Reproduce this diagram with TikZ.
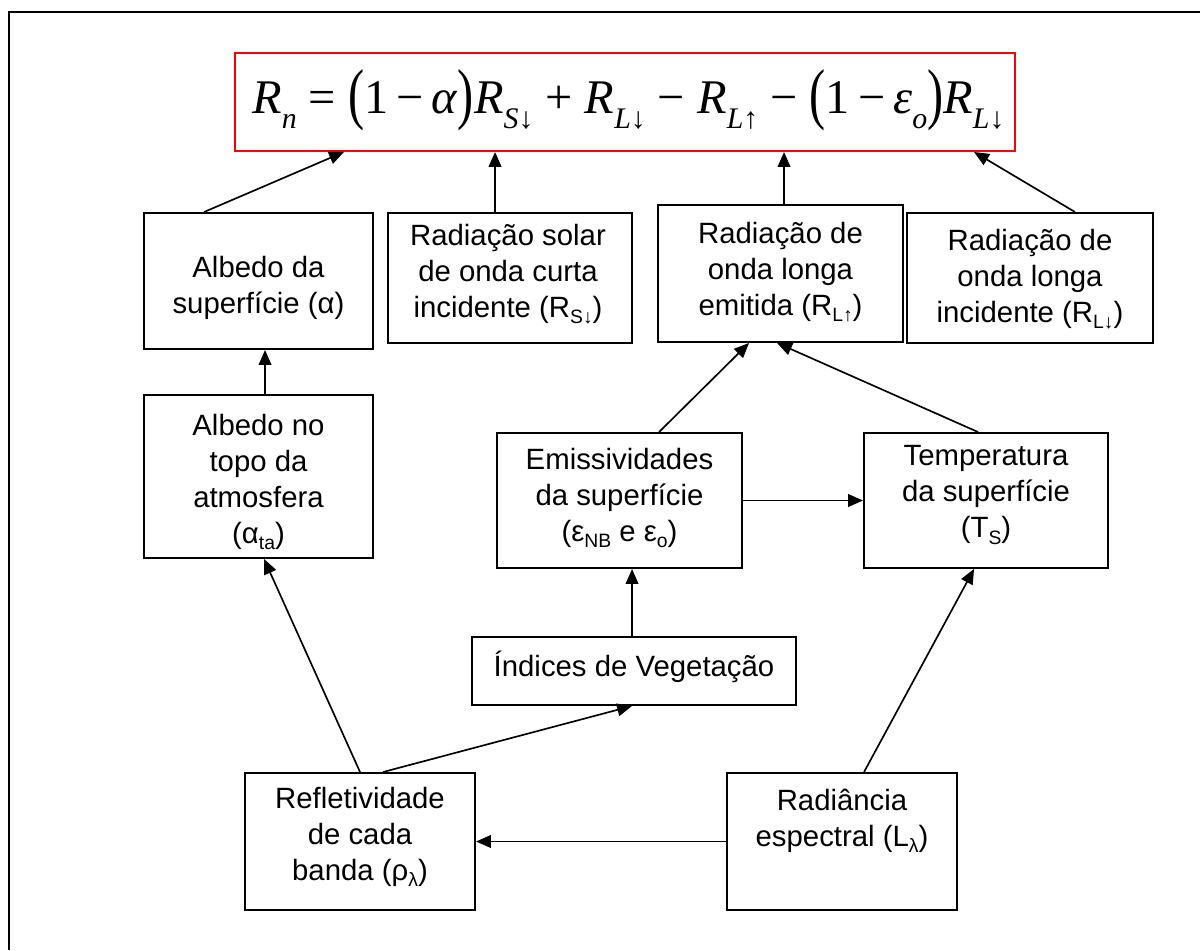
\documentclass[tikz,border=0pt]{standalone}
\usepackage{fontspec}
\setmainfont{Liberation Sans}
\newfontfamily\eqfont{Liberation Serif}
\usetikzlibrary{arrows.meta,calc}
\newcommand\esub[1]{\raisebox{-0.32em}{\fontsize{17}{17}\selectfont\textit{#1}}}
\newcommand\lpar{\raisebox{-0.07em}{\scalebox{1}[1.4]{(}}}
\newcommand\rpar{\raisebox{-0.07em}{\scalebox{1}[1.4]{)}}}
\newcommand\tsub[1]{\raisebox{-0.22em}{\fontsize{11}{11}\selectfont #1}}
\tikzset{
  bx/.style={draw=black, line width=1.1pt, inner sep=0pt},
  txt/.style={align=center, inner sep=0pt, font=\fontsize{16.7}{20.5}\selectfont},
  arr/.style={line width=0.95pt, -{Triangle[length=8.5pt,width=7.2pt]}},
}
\begin{document}
\begin{tikzpicture}[x=0.02cm,y=-0.02cm]
\useasboundingbox (0,0) rectangle (1200,950);
% outer frame
\draw[line width=1.6pt] (9,950) -- (9,12) -- (1200,12);
% equation
\node[draw=red, line width=1.1pt, minimum width={780*0.02cm}, minimum height={98*0.02cm}, inner sep=0pt] (eq) at (625,102) {};
\node[anchor=base west, inner sep=0pt] (eqt) at (252,113) {\eqfont\fontsize{27.5}{30}\selectfont
 \textit{R}\esub{n} = \lpar1\,−\,\textit{α}\rpar\textit{R}\esub{S↓} + \textit{R}\esub{L↓} − \textit{R}\esub{L↑} − \lpar1\,−\,\textit{ε}\esub{o}\rpar\textit{R}\esub{L↓}};
% boxes
\node[bx, minimum width={229*0.02cm}, minimum height={136*0.02cm}] (alb) at (258.5,281) {};
\node[bx, minimum width={244*0.02cm}, minimum height={130*0.02cm}] (solar) at (510,278) {};
\node[bx, minimum width={245*0.02cm}, minimum height={137*0.02cm}] (emit) at (780.5,273.5) {};
\node[bx, minimum width={246*0.02cm}, minimum height={130*0.02cm}] (incid) at (1030,278) {};
\node[bx, minimum width={229*0.02cm}, minimum height={163*0.02cm}] (topo) at (258.5,476.5) {};
\node[bx, minimum width={245*0.02cm}, minimum height={135*0.02cm}] (emiss) at (619.5,500.5) {};
\node[bx, minimum width={244*0.02cm}, minimum height={135*0.02cm}] (temp) at (986,500.5) {};
\node[bx, minimum width={324*0.02cm}, minimum height={68*0.02cm}] (indices) at (634,671) {};
\node[bx, minimum width={230*0.02cm}, minimum height={137*0.02cm}] (refl) at (360,841.5) {};
\node[bx, minimum width={230*0.02cm}, minimum height={137*0.02cm}] (radi) at (842,841.5) {};
% texts
\node[txt] (albt) at (258.5,288) {Albedo da\\superfície (α)};
\node[txt] (solart) at (508,274) {Radiação solar\\de onda curta\\incidente (R\tsub{S↓})};
\node[txt] (emitt) at (780.5,272) {Radiação de\\onda longa\\emitida (R\tsub{L↑})};
\node[txt] (incidt) at (1030,279) {Radiação de\\onda longa\\incidente (R\tsub{L↓})};
\node[txt] (topot) at (258.5,482) {Albedo no\\topo da\\atmosfera\\(α\tsub{ta})};
\node[txt] (emisst) at (619.5,498) {Emissividades\\da superfície\\(ε\tsub{NB} e ε\tsub{o})};
\node[txt] (tempt) at (986,495) {Temperatura\\da superfície\\(T\tsub{S})};
\node[txt] (indicest) at (634,667) {Índices de Vegetação};
\node[txt] (reflt) at (360,837) {Refletividade\\de cada\\banda (ρ\tsub{λ})};
\node[txt] (radit) at (842,821) {Radiância\\espectral (L\tsub{λ})};
% arrows
\draw[arr] ($(alb.north west)+(61,0)$) -- ($(eq.south west)+(110,0)$);
\draw[arr] ($(solar.north west)+(108,0)$) -- ($(eq.south west)+(261,0)$);
\draw[arr] ($(emit.north west)+(127,0)$) -- ($(eq.south west)+(550,0)$);
\draw[arr] ($(incid.north west)+(169,0)$) -- ($(eq.south west)+(740,0)$);
\draw[arr] ($(topo.north west)+(122,0)$) -- ($(alb.south west)+(122,0)$);
\draw[arr] ($(refl.north west)+(116,0)$) -- ($(topo.south west)+(121,0)$);
\draw[arr] ($(refl.north west)+(139,0)$) -- ($(indices.south west)+(161,0)$);
\draw[arr] ($(indices.north west)+(161,0)$) -- ($(emiss.south west)+(136,0)$);
\draw[arr] ($(emiss.north west)+(163,0)$) -- ($(emit.south west)+(92,0)$);
\draw[arr] ($(temp.north west)+(115,0)$) -- ($(emit.south west)+(120,0)$);
\draw[arr] (emiss.east) -- (temp.west);
\draw[arr] ($(radi.north west)+(138,0)$) -- ($(temp.south west)+(111,0)$);
\draw[arr] (radi.west) -- (refl.east);
\end{tikzpicture}
\end{document}
